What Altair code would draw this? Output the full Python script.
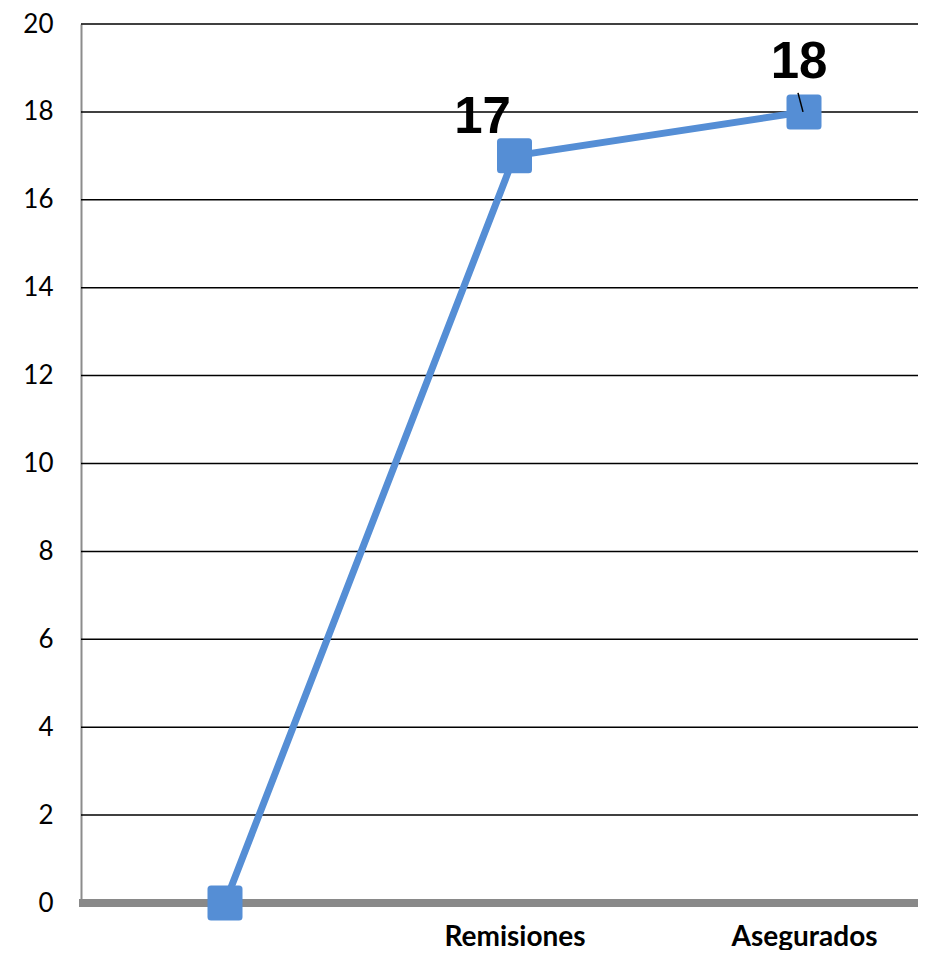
import altair as alt
import pandas as pd

categories = [" ", "Remisiones", "Asegurados"]
values = [0, 17, 18]
grid_values = [2, 4, 6, 8, 10, 12, 14, 16, 18, 20]

df = pd.DataFrame({"cat": categories, "val": values})
gdf = pd.DataFrame({"val": grid_values})
zdf = pd.DataFrame({"val": [0]})

W, H = 837, 879

xscale = alt.Scale(type="point", range=[144, 723], padding=0)
yscale = alt.Scale(domain=[0, 20], nice=False)

yaxis = alt.Axis(values=list(range(0, 21, 2)), labelFont="Lato",
                 labelFontSize=26, labelColor="black", labelPadding=28, ticks=False,
                 domainColor="#8c8c8c", domainWidth=2, grid=False)

x = alt.X("cat:N", sort=categories, title=None, scale=xscale,
          axis=alt.Axis(labelAngle=0, labelFont="Lato", labelFontWeight="bold",
                        labelFontSize=28, labelColor="black", labelPadding=42,
                        labelBaseline="alphabetic", ticks=False,
                        domain=False, grid=False))
y = alt.Y("val:Q", title=None, scale=yscale, axis=yaxis)

grid = alt.Chart(gdf).mark_rule(color="black", strokeWidth=1.5).encode(
    y=y, x=alt.value(0), x2=alt.value(W))
zero = alt.Chart(zdf).mark_rule(color="#898989", strokeWidth=8).encode(
    y=y, x=alt.value(-2), x2=alt.value(W))

base = alt.Chart(df).encode(x=x, y=y)

line = base.mark_line(color="#558ED5", strokeWidth=7)
rounded_square = ("M -0.8 -1 L 0.8 -1 Q 1 -1 1 -0.8 L 1 0.8 Q 1 1 0.8 1 "
                  "L -0.8 1 Q -1 1 -1 0.8 L -1 -0.8 Q -1 -1 -0.8 -1 Z")
pts = base.mark_point(shape=rounded_square, filled=True, size=1225, color="#558ED5", opacity=1)

b18 = base.transform_filter(alt.datum.cat == "Asegurados")
leader = b18.mark_rule(color="black", strokeWidth=1.5, xOffset=-6, yOffset=-19,
                       x2Offset=-1, y2Offset=0).encode(x2="cat:N", y2="val:Q")

lab17 = base.transform_filter(alt.datum.cat == "Remisiones").mark_text(
    font="Liberation Sans", fontWeight="bold", fontSize=51, color="black",
    dx=-32, dy=-23, baseline="alphabetic").encode(text="val:Q")
lab18 = b18.mark_text(
    font="Liberation Sans", fontWeight="bold", fontSize=51, color="black",
    dx=-5, dy=-34, baseline="alphabetic").encode(text="val:Q")

chart = alt.layer(grid, zero, line, pts, leader, lab17, lab18).properties(
    width=W, height=H,
    autosize=alt.AutoSizeParams(type="none"),
    padding={"left": 73, "top": 16, "right": 0, "bottom": 47},
).configure_view(stroke=None)

chart.save("out.html", embed_options={"renderer": "svg", "actions": False})
